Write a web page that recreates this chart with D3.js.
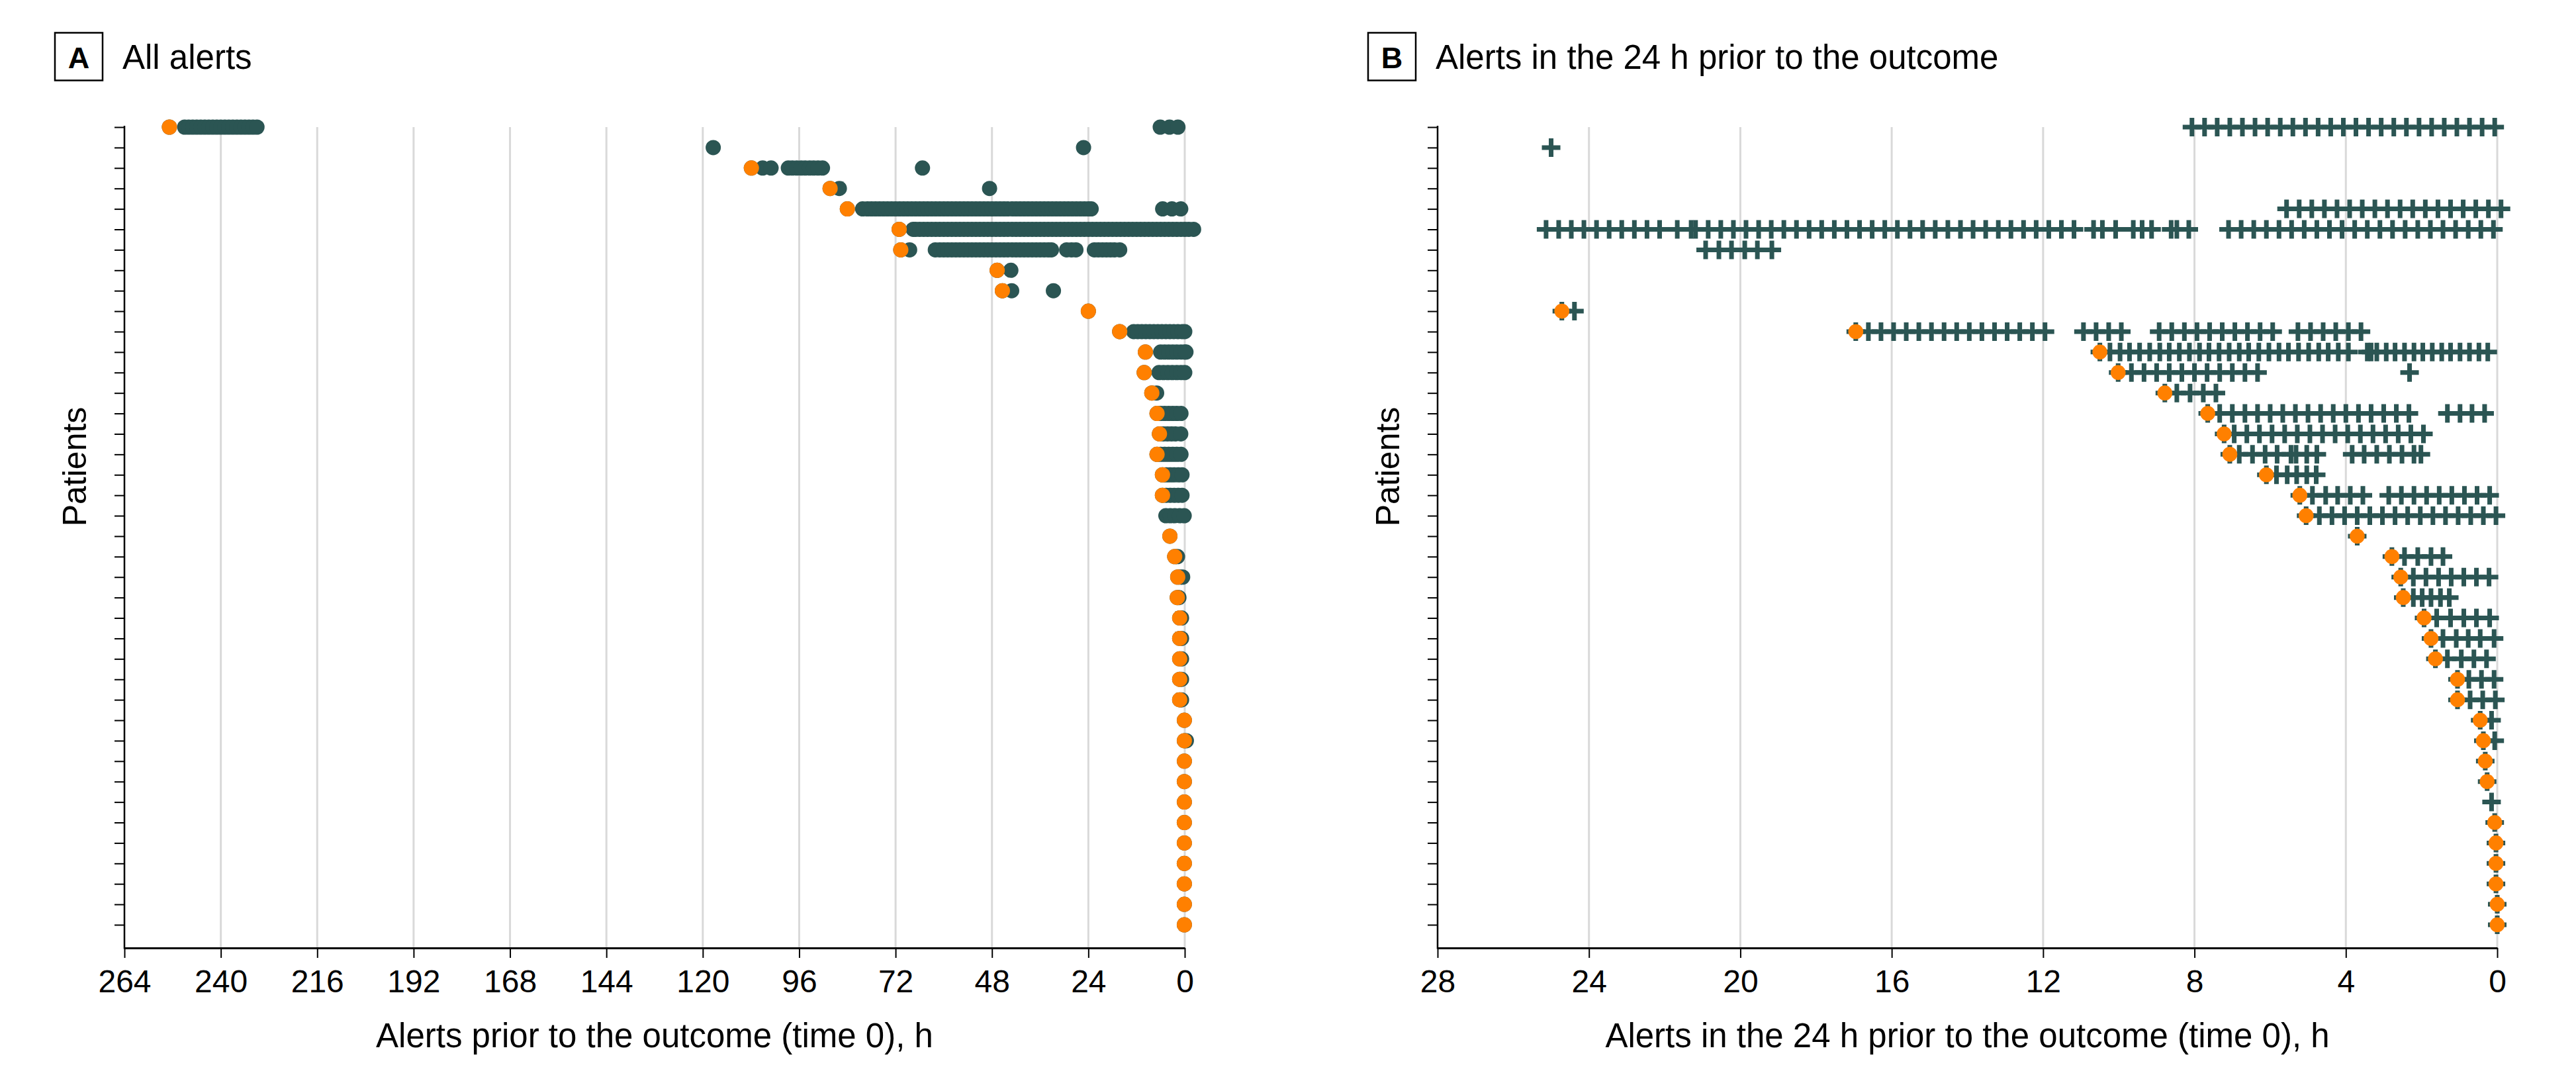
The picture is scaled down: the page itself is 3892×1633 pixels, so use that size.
<!DOCTYPE html>
<html><head><meta charset="utf-8">
<script src="https://cdn.jsdelivr.net/npm/d3@7"></script>
<style>body{margin:0;background:#fff}</style>
</head><body><svg id="chart" width="3892" height="1633"></svg>
<script>
// ---------- DATA ----------
const patients = [1,2,3,4,5,6,7,8,9,10,11,12,13,14,15,16,17,18,19,20,21,22,23,24,25,26,27,28,29,30,31,32,33,34,35,36,37,38,39,40];

const ticksA = [264,240,216,192,168,144,120,96,72,48,24,0];
const ticksB = [28,24,20,16,12,8,4,0];

// Panel A: hours prior to outcome (first alert shown in orange)
const firstAlertHoursA = [252.8,null,107.9,88.3,84.0,71.1,70.7,46.7,45.4,24.0,16.2,9.8,10.1,8.2,6.9,6.3,6.9,5.55,5.55,null,3.7,2.5,1.75,1.86,1.26,1.26,1.26,1.26,1.26,0.1,0.1,0.1,0.1,0.1,0.1,0.1,0.1,0.1,0.1,0.1];
const alertHoursA = [
  [252.8,249,248,247,246,245,244,243,242,241,240,239,238,237,236,235,234,233,232,231,6.1,3.8,1.7],
  [117.4,25.2],
  [107.9,105.1,103.0,98.7,97.7,96.6,95.5,94.5,93.4,92.4,91.3,90.2,65.3],
  [88.3,86.0,48.6],
  [84.0,80.2,79,78,77,76,75,74,73,72,71,70,69,68,67,66,65,64,63,62,61,60,59,58,57,56,55,54,53,52,51,50,49,48,47,46,45,44,43,42,41,40,39,38,37,36,35,34,33,32,31,30,29,28,27,26,25,24,23.3,5.5,3.2,1.0],
  [71.1,67.6,67,66,65,64,63,62,61,60,59,58,57,56,55,54,53,52,51,50,49,48,47,46,45,44,43,42,41,40,39,38,37,36,35,34,33,32,31,30,29,28,27,26,25,24,23,22,21,20,19,18,17,16,15,14,13,12,11,10,9,8,7,6,5,4,3,2,1,0,-1,-2.2],
  [70.7,68.5,62.1,61,60,59,58,57,56,55,54,53,52,51,50,49,48,47,46,45,44,43,42,41,40,39,38,37,36,35,34,33.2,29.4,28.2,27.1,22.5,21.5,20.5,19.5,18.5,17.5,16.2],
  [46.7,43.3],
  [45.4,43.1,32.7],
  [24.0],
  [16.2,12.7,11.7,10.7,9.7,8.7,7.7,6.7,5.7,4.7,3.7,2.7,1.7,0.7,0],
  [9.8,6.0,5,4,3,2,1,0,-0.3],
  [10.1,6.4,5.3,4.2,3.1,2.0,1.0,0],
  [8.2,7.0],
  [6.9,6.0,5,4,3,2,0.94],
  [6.3,5.3,4.3,3.3,2.3,1.0],
  [6.9,6.0,5,4,3,2,0.94],
  [5.55,4.6,3.6,2.6,1.6,0.69],
  [5.55,4.6,3.6,2.6,1.6,0.69],
  [4.7,3.6,2.5,1.3,0.14],
  [3.7],
  [2.5,1.8],
  [1.75,1.1,0.52],
  [1.86,1.45],
  [1.26,0.8],
  [1.26,0.8],
  [1.26,0.8],
  [1.26,0.8],
  [1.26,0.8],
  [0.1],
  [0.1,-0.4],
  [0.1],[0.1],[0.1],[0.1],[0.1],[0.1],[0.1],[0.1],[0.1]
];

// Panel B: minutes prior to outcome (first alert shown in orange)
const firstAlertMinutesB = [null,null,null,null,null,null,null,null,null,1483,1017,630,601,527,459,433,424,366,313,303,222,167,153,149,116,105,98,63,63,27,22,19,16,null,4,2,2,2,0,0];
const alertMinutesB = [
  [484,464,444,424,404,384,364,344,324,304,284,264,244,224,204,184,164,144,124,104,84,64,44,24,4],
  [1500],
  [],
  [],
  [334,314,294,274,254,234,214,194,174,154,134,114,94,74,54,34,14,-6],
  [1508,1488,1468,1448,1428,1408,1388,1368,1348,1328,1300,1278,1271,1251,1231,1211,1191,1171,1151,1131,1111,1091,1071,1051,1031,1011,991,971,951,931,911,891,871,851,831,811,791,771,751,731,711,691,671,640,626,605,577,563,548,517,508,489,426,406,386,366,346,326,306,286,266,246,226,206,186,166,146,126,106,86,66,46,26,6],
  [1255,1234,1214,1193,1173,1150],
  [],
  [],
  [1483,1463],
  [1017,997,977,957,937,917,897,877,857,837,817,797,777,757,737,717,656,636,616,596,536,516,496,476,456,436,416,396,376,356,316,296,276,256,236,216],
  [630,614,598,583,567,551,535,520,504,488,472,457,441,425,409,394,378,362,346,331,315,299,283,268,252,236,206,200,191,176,162,147,132,118,103,88,74,59,44,29,15],
  [601,580,560,540,520,500,480,460,440,420,400,380,139],
  [527,508,487,466,446],
  [459,440,420,400,380,360,340,320,300,280,260,240,220,200,180,160,140,79,59,40,20],
  [433,417,397,377,357,337,317,297,277,257,237,217,197,177,157,137,117],
  [424,409,388,368,349,327,319,302,286,230,211,191,171,151,132,121],
  [366,350,333,318,302,287],
  [313,293,272,253,233,213,172,152,132,112,92,72,52,32,12],
  [303,282,262,242,222,202,182,162,142,122,102,82,62,42,22,2],
  [222],
  [167,147,126,105,86],
  [153,133,113,93,73,53,33,13],
  [149,133,119,105,90,76],
  [116,96,74,53,33,12],
  [105,86,65,46,27,5],
  [98,79,57,37,17],
  [63,45,25,5],
  [63,43,23,3],
  [27,9],
  [22,4],
  [19],
  [16],
  [9],
  [4],
  [2],
  [2],
  [2],
  [0],
  [0]
];

// ---------- DRAW ----------
const FONT = '"Liberation Sans", Arial, Helvetica, sans-serif';
const DARK = '#2b5553';
const ORANGE = '#ff8000';
const svg = d3.select('#chart');
svg.append('rect').attr('width',3892).attr('height',1633).attr('fill','#fff');

const rowY = d3.scaleLinear().domain([1, 40]).range([192, 1397]);
const AXIS_Y = 1432;
const TOP_Y = 192;

function drawPanel(cfg) {
  const g = svg.append('g');
  const x = d3.scaleLinear().domain(cfg.domain).range(cfg.range);

  // vertical gridlines
  g.append('g').selectAll('line').data(cfg.ticks.filter(t => t !== cfg.domain[0])).join('line')
    .attr('x1', d => x(d)).attr('x2', d => x(d))
    .attr('y1', TOP_Y).attr('y2', AXIS_Y)
    .attr('stroke', '#d9d9d9').attr('stroke-width', 3);

  // markers
  cfg.drawMarks(g, x);

  // x axis
  const ax = g.append('g').attr('transform', `translate(0,${AXIS_Y})`)
    .call(d3.axisBottom(x).tickValues(cfg.ticks).tickSize(15).tickSizeOuter(0).tickPadding(18).tickFormat(d3.format('d')));
  ax.attr('font-family', FONT).attr('font-size', 48);
  ax.select('.domain').attr('stroke', '#000').attr('stroke-width', 3);
  ax.selectAll('.tick line').attr('stroke', '#000').attr('stroke-width', 2);
  ax.selectAll('.tick text').attr('fill', '#000');

  // y axis
  const x0 = cfg.range[0];
  const ay = g.append('g').attr('transform', `translate(${x0},0)`)
    .call(d3.axisLeft(rowY).tickValues(patients).tickSize(15).tickFormat(''));
  ay.select('.domain').remove();
  ay.selectAll('.tick line').attr('stroke', '#000').attr('stroke-width', 2);
  g.append('line').attr('x1', x0).attr('x2', x0).attr('y1', 190).attr('y2', AXIS_Y + 1.5)
    .attr('stroke', '#000').attr('stroke-width', 2.5);

  // axis titles
  g.append('text').attr('x', (cfg.range[0] + cfg.range[1]) / 2).attr('y', 1582)
    .attr('text-anchor', 'middle').attr('font-family', FONT).attr('font-size', 51).attr('fill', '#000')
    .text(cfg.xTitle);
  g.append('text').attr('transform', `translate(${cfg.yLabelX},705) rotate(-90)`)
    .attr('text-anchor', 'middle').attr('font-family', FONT).attr('font-size', 50).attr('fill', '#000')
    .text('Patients');

  // panel letter box + title
  g.append('rect').attr('x', cfg.boxX).attr('y', 49.5).attr('width', 72).attr('height', 72)
    .attr('fill', 'none').attr('stroke', '#000').attr('stroke-width', 2.5);
  g.append('text').attr('x', cfg.boxX + 36).attr('y', 103).attr('text-anchor', 'middle')
    .attr('font-family', FONT).attr('font-weight', 'bold').attr('font-size', 45).attr('fill', '#000')
    .text(cfg.letter);
  g.append('text').attr('x', cfg.boxX + 102).attr('y', 104)
    .attr('font-family', FONT).attr('font-size', 51).attr('fill', '#000')
    .text(cfg.title);
}

// Panel A
drawPanel({
  domain: [264, 0], range: [188, 1790], ticks: ticksA,
  xTitle: 'Alerts prior to the outcome (time 0), h',
  yLabelX: 130, boxX: 83, letter: 'A', title: 'All alerts',
  drawMarks: (g, x) => {
    const pts = [];
    alertHoursA.forEach((arr, i) => arr.forEach(h => pts.push({p: patients[i], h})));
    g.append('g').selectAll('circle').data(pts).join('circle')
      .attr('cx', d => x(d.h)).attr('cy', d => rowY(d.p)).attr('r', 11.5).attr('fill', DARK);
    const firsts = firstAlertHoursA.map((h, i) => ({p: patients[i], h})).filter(d => d.h !== null);
    g.append('g').selectAll('circle').data(firsts).join('circle')
      .attr('cx', d => x(d.h)).attr('cy', d => rowY(d.p)).attr('r', 11.5).attr('fill', ORANGE);
  }
});

// Panel B
drawPanel({
  domain: [28, 0], range: [2172, 3773], ticks: ticksB,
  xTitle: 'Alerts in the 24 h prior to the outcome (time 0), h',
  yLabelX: 2114, boxX: 2067, letter: 'B', title: 'Alerts in the 24 h prior to the outcome',
  drawMarks: (g, x) => {
    const pts = [];
    alertMinutesB.forEach((arr, i) => arr.forEach(m => pts.push({p: patients[i], h: m / 60})));
    g.append('g').selectAll('path').data(pts).join('path')
      .attr('transform', d => `translate(${x(d.h)},${rowY(d.p)})`)
      .attr('d', 'M-14,0H14M0,-14V14')
      .attr('stroke', DARK).attr('stroke-width', 7).attr('fill', 'none');
    const firsts = firstAlertMinutesB.map((m, i) => ({p: patients[i], h: m === null ? null : m / 60})).filter(d => d.h !== null);
    g.append('g').selectAll('circle').data(firsts).join('circle')
      .attr('cx', d => x(d.h)).attr('cy', d => rowY(d.p)).attr('r', 11.3).attr('fill', ORANGE);
  }
});
</script>
</body></html>
